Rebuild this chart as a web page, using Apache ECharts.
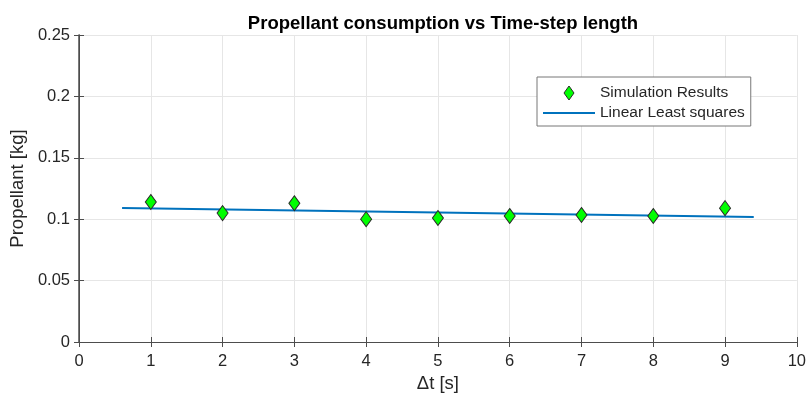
<!DOCTYPE html>
<html>
<head>
<meta charset="utf-8">
<script src="https://cdn.jsdelivr.net/npm/echarts@6/dist/echarts.min.js"></script>
<style>html,body{margin:0;padding:0;background:#fff}#c{width:809px;height:403px}</style>
</head>
<body>
<div id="c"></div>
<script>
var timeSteps = [1, 2, 3, 4, 5, 6, 7, 8, 9];
var propellant = [0.114, 0.105, 0.113, 0.100, 0.101, 0.1026, 0.1034, 0.1026, 0.109];
var fitX = [0.6, 9.4];
var fitY = [0.1091, 0.1018];
var xTicks = [0, 1, 2, 3, 4, 5, 6, 7, 8, 9, 10];
var yTicks = [0, 0.05, 0.1, 0.15, 0.2, 0.25];

var font = 'Liberation Sans, Arial, sans-serif';
var axisCol = '#4d4d4d';
var txtCol = '#262626';

var chart = echarts.init(document.getElementById('c'));
chart.setOption({
  backgroundColor: '#fff',
  animation: false,
  title: {
    text: 'Propellant consumption vs Time-step length',
    left: 438, top: 9, textAlign: 'center',
    textStyle: {fontFamily: font, fontSize: 18.5, fontWeight: 'bold', color: '#000'}
  },
  legend: {
    orient: 'vertical',
    left: 537, top: 77,
    padding: [8, 6, 5, 6],
    itemGap: 4,
    itemWidth: 52, itemHeight: 14,
    symbolKeepAspect: true,
    borderColor: '#777', borderWidth: 1,
    backgroundColor: '#fff',
    textStyle: {fontFamily: font, fontSize: 15.5, color: txtCol},
    data: [
      {name: 'Simulation Results', icon: 'path://M50,0L100,70L50,140L0,70Z',
       itemStyle: {color: '#00ff00', borderColor: '#2a2a2a', borderWidth: 1}},
      {name: 'Linear Least squares', icon: 'path://M0,0L52,0L52,2.2L0,2.2Z',
       itemStyle: {color: '#0072BD', borderWidth: 0}}
    ]
  },
  grid: {left: 79, right: 12, top: 35, bottom: 61, containLabel: false},
  xAxis: [{
    type: 'value', min: xTicks[0], max: xTicks[xTicks.length - 1], interval: 1,
    name: 'Δt [s]', nameLocation: 'middle', nameGap: 31,
    nameTextStyle: {fontFamily: font, fontSize: 18.5, color: txtCol},
    axisLine: {show: true, onZero: false, lineStyle: {color: axisCol}},
    axisTick: {show: true, inside: true, length: 5, lineStyle: {color: axisCol}},
    axisLabel: {fontFamily: font, fontSize: 16.5, color: txtCol, margin: 11},
    splitLine: {show: true, lineStyle: {color: '#e6e6e6'}}
  }, {
    type: 'value', position: 'top', min: 0, max: 10, interval: 1,
    axisLine: {show: true, lineStyle: {color: axisCol}},
    axisTick: {show: true, inside: true, length: 5, lineStyle: {color: axisCol}},
    axisLabel: {show: false}, splitLine: {show: false}
  }],
  yAxis: [{
    type: 'value', min: yTicks[0], max: yTicks[yTicks.length - 1], interval: 0.05,
    name: 'Propellant [kg]', nameLocation: 'middle', nameGap: 49,
    nameTextStyle: {fontFamily: font, fontSize: 18.5, color: txtCol},
    axisLine: {show: true, onZero: false, lineStyle: {color: axisCol}},
    axisTick: {show: true, inside: true, length: 5, lineStyle: {color: axisCol}},
    axisLabel: {fontFamily: font, fontSize: 16.5, color: txtCol, margin: 9},
    splitLine: {show: true, lineStyle: {color: '#e6e6e6'}}
  }, {
    type: 'value', position: 'right', min: 0, max: 0.25, interval: 0.05,
    axisLine: {show: true, lineStyle: {color: axisCol, width: 1.5}},
    axisTick: {show: true, inside: true, length: 5, lineStyle: {color: axisCol}},
    axisLabel: {show: false}, splitLine: {show: false}
  }],
  series: [{
    name: 'Linear Least squares',
    type: 'line',
    data: fitX.map(function (x, i) { return [x, fitY[i]]; }),
    symbol: 'none',
    lineStyle: {color: '#0072BD', width: 2},
    itemStyle: {color: '#0072BD', borderWidth: 0},
    z: 2
  }, {
    name: 'Simulation Results',
    type: 'scatter',
    data: timeSteps.map(function (x, i) { return [x, propellant[i]]; }),
    symbol: 'diamond',
    symbolSize: [11, 15],
    itemStyle: {color: '#00ff00', borderColor: '#2a2a2a', borderWidth: 1, opacity: 1},
    z: 3
  }]
});
</script>
</body>
</html>
